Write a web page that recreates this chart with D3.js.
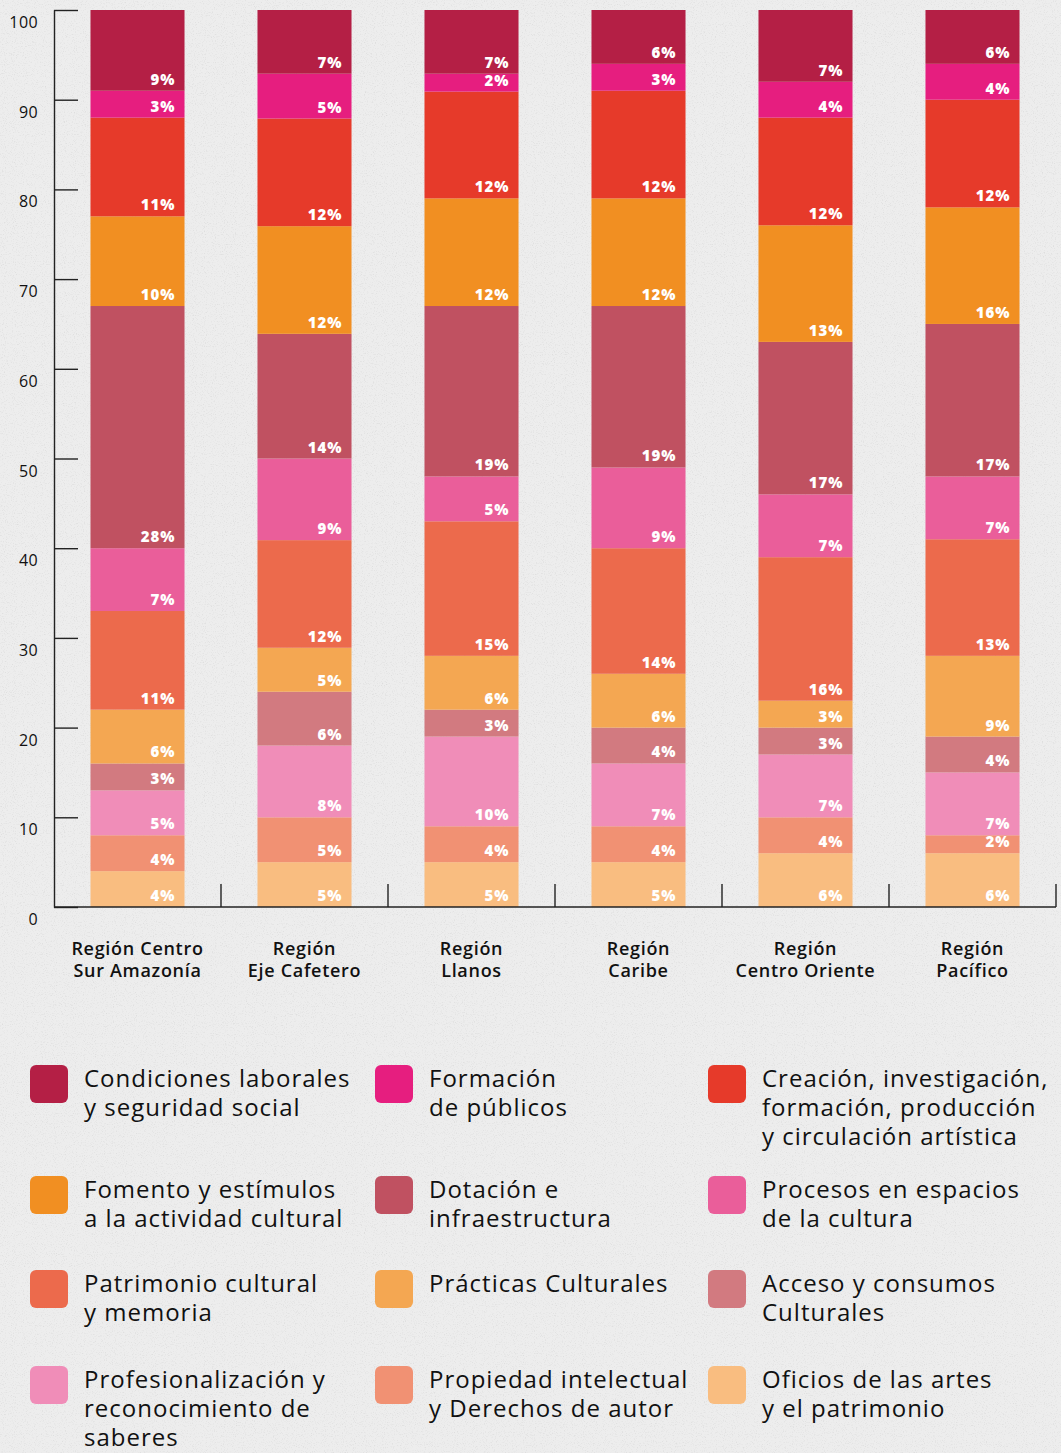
<!DOCTYPE html>
<html>
<head>
<meta charset="utf-8">
<script src="https://cdn.jsdelivr.net/npm/d3@7"></script>
<style>
  html, body { margin: 0; padding: 0; background: #ebebeb; }
  svg { display: block; }
  text { font-family: "Open Sans", "Noto Sans", sans-serif; }
</style>
</head>
<body>
<svg id="chart" width="1061" height="1453"></svg>
<script>
// ---------------- DATA ----------------
const categories = ["Región Centro Sur Amazonía", "Región Eje Cafetero", "Región Llanos",
                    "Región Caribe", "Región Centro Oriente", "Región Pacífico"];
const categoryLines = [["Región Centro", "Sur Amazonía"], ["Región", "Eje Cafetero"], ["Región", "Llanos"],
                       ["Región", "Caribe"], ["Región", "Centro Oriente"], ["Región", "Pacífico"]];

// series, stacked bottom -> top
const seriesNames = [
  "Oficios de las artes y el patrimonio",
  "Propiedad intelectual y Derechos de autor",
  "Profesionalización y reconocimiento de saberes",
  "Acceso y consumos Culturales",
  "Prácticas Culturales",
  "Patrimonio cultural y memoria",
  "Procesos en espacios de la cultura",
  "Dotación e infraestructura",
  "Fomento y estímulos a la actividad cultural",
  "Creación, investigación, formación, producción y circulación artística",
  "Formación de públicos",
  "Condiciones laborales y seguridad social"
];
const seriesColors = ["#f9bd80", "#f19173", "#f08db8", "#d27a80", "#f4a752", "#ec6a4c",
                      "#ea5e9a", "#c05161", "#f18f22", "#e63a2a", "#e61e7f", "#b41f45"];

// segment sizes (share of each bar, as drawn)
const oficios          = [4, 5, 5, 5, 6, 6];
const propiedad        = [4, 5, 4, 4, 4, 2];
const profesionalizac  = [5, 8, 10, 7, 7, 7];
const acceso           = [3, 6, 3, 4, 3, 4];
const practicas        = [6, 4.9, 6, 6, 3, 9];
const patrimonio       = [11, 12, 15, 14, 16, 13];
const procesos         = [7, 9.1, 5, 9, 7, 7];
const dotacion         = [27, 13.9, 19, 18, 17, 17];
const fomento          = [10, 12, 12, 12, 13, 13];
const creacion         = [11, 12, 11.9, 12, 12, 12];
const formacion        = [3, 5, 2, 3, 4, 4];
const condiciones      = [9, 7.1, 7.1, 6, 8, 6];
const seriesValues = [oficios, propiedad, profesionalizac, acceso, practicas, patrimonio,
                      procesos, dotacion, fomento, creacion, formacion, condiciones];

// printed percentage labels
const oficiosLbl         = [4, 5, 5, 5, 6, 6];
const propiedadLbl       = [4, 5, 4, 4, 4, 2];
const profesionalizacLbl = [5, 8, 10, 7, 7, 7];
const accesoLbl          = [3, 6, 3, 4, 3, 4];
const practicasLbl       = [6, 5, 6, 6, 3, 9];
const patrimonioLbl      = [11, 12, 15, 14, 16, 13];
const procesosLbl        = [7, 9, 5, 9, 7, 7];
const dotacionLbl        = [28, 14, 19, 19, 17, 17];
const fomentoLbl         = [10, 12, 12, 12, 13, 16];
const creacionLbl        = [11, 12, 12, 12, 12, 12];
const formacionLbl       = [3, 5, 2, 3, 4, 4];
const condicionesLbl     = [9, 7, 7, 6, 7, 6];
const seriesLabels = [oficiosLbl, propiedadLbl, profesionalizacLbl, accesoLbl, practicasLbl, patrimonioLbl,
                      procesosLbl, dotacionLbl, fomentoLbl, creacionLbl, formacionLbl, condicionesLbl];

const yTicks = [0, 10, 20, 30, 40, 50, 60, 70, 80, 90, 100];

// legend (reading order, with line breaks)
const legendOrder = [11, 10, 9, 8, 7, 6, 5, 4, 3, 2, 1, 0];
const legendLines = {
  11: ["Condiciones laborales", "y seguridad social"],
  10: ["Formación", "de públicos"],
  9:  ["Creación, investigación,", "formación, producción", "y circulación artística"],
  8:  ["Fomento y estímulos", "a la actividad cultural"],
  7:  ["Dotación e", "infraestructura"],
  6:  ["Procesos en espacios", "de la cultura"],
  5:  ["Patrimonio cultural", "y memoria"],
  4:  ["Prácticas Culturales"],
  3:  ["Acceso y consumos", "Culturales"],
  2:  ["Profesionalización y", "reconocimiento de", "saberes"],
  1:  ["Propiedad intelectual", "y Derechos de autor"],
  0:  ["Oficios de las artes", "y el patrimonio"]
};

// ---------------- CHART ----------------
const svg = d3.select("#chart");

// paper-like background
const defs = svg.append("defs");
const f = defs.append("filter").attr("id", "paper").attr("x", 0).attr("y", 0).attr("width", "100%").attr("height", "100%");
f.append("feTurbulence").attr("type", "fractalNoise").attr("baseFrequency", 0.9).attr("numOctaves", 2).attr("seed", 3);
f.append("feColorMatrix").attr("type", "matrix")
  .attr("values", "0 0 0 0 0.3  0 0 0 0 0.3  0 0 0 0 0.3  0 0 0 -1.6 0.75");
svg.append("rect").attr("width", 1061).attr("height", 1453).attr("fill", "#ededed");
svg.append("rect").attr("width", 1061).attr("height", 1453).attr("filter", "url(#paper)").attr("opacity", 0.3);

const x = d3.scaleBand().domain(categories).range([54, 1056]).paddingInner(0.437).paddingOuter(0.2185);
const y = d3.scaleLinear().domain([0, 100]).range([907, 10]);

const table = categories.map((c, i) => {
  const row = { category: c };
  seriesNames.forEach((s, j) => { row[s] = seriesValues[j][i]; });
  return row;
});
const stacked = d3.stack().keys(seriesNames)(table);

const gBars = svg.append("g");
stacked.forEach((layer, j) => {
  const g = gBars.append("g").attr("fill", seriesColors[j]);
  g.selectAll("rect").data(layer).join("rect")
    .attr("x", d => x(d.data.category))
    .attr("y", d => y(d[1]))
    .attr("width", x.bandwidth())
    .attr("height", d => y(d[0]) - y(d[1]));
});

// value labels
stacked.forEach((layer, j) => {
  gBars.append("g").selectAll("text").data(layer).join("text")
    .attr("x", d => x(d.data.category) + x.bandwidth() - 9)
    .attr("y", d => y(d[0]) - 6)
    .attr("text-anchor", "end")
    .attr("fill", "#ffffff")
    .attr("font-size", 15)
    .attr("font-weight", 800)
    .attr("letter-spacing", 1)
    .text((d, i) => seriesLabels[j][i] + "%");
});

// y axis
const yAxis = d3.axisLeft(y).tickValues(yTicks).tickSize(-24).tickSizeOuter(0).tickFormat(d3.format("d"));
const gy = svg.append("g").attr("transform", "translate(54,0)").call(yAxis);
gy.select(".domain").attr("stroke", "#222").attr("stroke-width", 1.4);
gy.selectAll(".tick line").attr("stroke", "#222").attr("stroke-width", 1.4);
gy.selectAll(".tick text")
  .attr("x", -16).attr("dy", "0.35em").attr("y", 12)
  .attr("fill", "#111").attr("font-size", 16).attr("font-weight", 500)
  .attr("letter-spacing", 0.4)
  .attr("font-family", "'Open Sans', sans-serif");

// x axis baseline + separators
const gx = svg.append("g");
gx.append("line")
  .attr("x1", x.range()[0]).attr("x2", x.range()[1])
  .attr("y1", y(0)).attr("y2", y(0))
  .attr("stroke", "#222").attr("stroke-width", 1.4);
gx.selectAll("line.sep").data(d3.range(1, categories.length + 1)).join("line")
  .attr("class", "sep")
  .attr("x1", i => x.range()[0] + i * x.step()).attr("x2", i => x.range()[0] + i * x.step())
  .attr("y1", y(0) - 23).attr("y2", y(0))
  .attr("stroke", "#222").attr("stroke-width", 1.4);

// category labels
const gc = svg.append("g");
categories.forEach((c, i) => {
  const t = gc.append("text")
    .attr("x", x(c) + x.bandwidth() / 2)
    .attr("text-anchor", "middle")
    .attr("fill", "#111")
    .attr("font-size", 18)
    .attr("font-weight", 600)
    .attr("letter-spacing", 0.7);
  categoryLines[i].forEach((ln, k) => {
    t.append("tspan").attr("x", x(c) + x.bandwidth() / 2).attr("y", 955 + k * 22).text(ln);
  });
});

// legend
const colX = [30, 375, 708];
const rowY = [1065, 1176, 1270, 1366];
const gl = svg.append("g");
legendOrder.forEach((si, k) => {
  const col = k % 3, row = Math.floor(k / 3);
  const g = gl.append("g").attr("transform", `translate(${colX[col]},${rowY[row]})`);
  g.append("rect").attr("width", 38).attr("height", 38).attr("rx", 6).attr("fill", seriesColors[si]);
  const t = g.append("text").attr("fill", "#111").attr("font-size", 24).attr("font-weight", 400)
    .attr("letter-spacing", 1);
  legendLines[si].forEach((ln, li) => {
    t.append("tspan").attr("x", 54).attr("y", 22 + li * 29).text(ln);
  });
});
</script>
</body>
</html>
